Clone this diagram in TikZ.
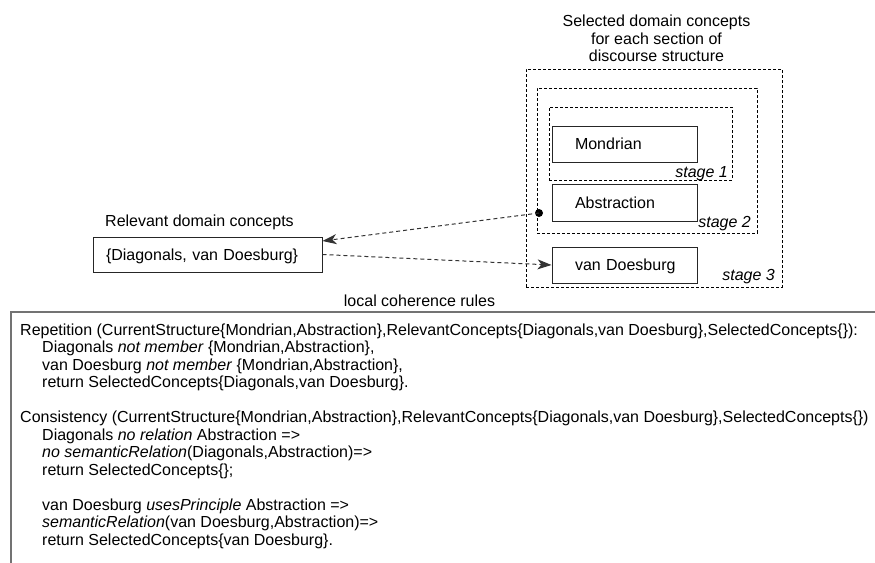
\documentclass[tikz,border=0pt]{standalone}
\usepackage{fontspec}
\setmainfont{Liberation Sans}
\usetikzlibrary{arrows.meta,calc}
\begin{document}
\begin{tikzpicture}[x=1pt,y=-1pt,
  every node/.style={font=\fontsize{16}{17.5}\selectfont},
  stagebox/.style={draw=black, line width=0.9pt, dash pattern=on 3pt off 2pt, inner sep=0pt},
  conceptbox/.style={draw=black!85, line width=1pt, inner xsep=23pt, inner ysep=0pt, minimum width=145pt, text width=99pt, align=left, text height=11.5pt, text depth=0pt},
  conn/.style={draw=black!80, line width=1pt, dash pattern=on 4pt off 3pt},
  tip/.style={-{Stealth[length=14pt,width=10pt,inset=4pt]}},
  stagelabel/.style={anchor=base east, inner sep=0pt, font=\fontsize{16}{17.5}\selectfont\itshape},
  plain/.style={inner sep=0pt}
]
\useasboundingbox (0,0) rectangle (875,562);

% title
\node[plain, anchor=north, align=center] (title) at (656.5,12.5)
  {\rule{0pt}{14pt}Selected domain concepts\\for each section of\\discourse structure};

% stage boxes
\node[stagebox, minimum width=256pt, minimum height=218pt] (st3) at (654,178) {};
\node[stagebox, minimum width=220pt, minimum height=145pt] (st2) at (647,160.5) {};
\node[stagebox, minimum width=183pt, minimum height=73pt] (st1) at (640.5,143.5) {};

% concept boxes
\node[conceptbox, minimum height=36pt] (mon) at (624.5,144) {\mbox{Mondrian}};
\node[conceptbox, minimum height=37pt] (abs) at (624.5,202.5) {\mbox{Abstraction}};
\node[conceptbox, minimum height=36pt] (vd) at (624.5,265) {\mbox{van Doesburg}};

% stage labels
\node[stagelabel] (l1) at (728,177) {stage 1};
\node[stagelabel] (l2) at (751,227.5) {stage 2};
\node[stagelabel] (l3) at (775,280) {stage 3};

% relevant concepts
\node[plain, anchor=base west] (reltitle) at (105,226.7) {Relevant domain concepts};
\node[draw=black!85, line width=1pt, minimum width=229pt, minimum height=35pt,
      inner xsep=13pt, inner ysep=0pt, text width=203pt, align=left,
      text height=11.5pt, text depth=0pt] (rel) at (207.5,254.5) {\{Diagonals, van Doesburg\}};

% connectors
\coordinate (dot) at (539,213);
\fill[black] (dot) circle (4pt);
\draw[conn, tip] (dot) -- ($(rel.east)+(0,-13.5)$);
\draw[conn, tip] (rel.east) -- (vd.west);

% local coherence rules
\node[plain, anchor=base] (lcr) at (419.5,306.5) {local coherence rules};
\coordinate (rb1) at (880,312);
\coordinate (rb2) at (11,312);
\coordinate (rb3) at (11,570);
\draw[draw=black!55, line width=1.5pt] (rb1) -- (rb2) -- (rb3);

\node[plain, anchor=north west, align=left] (rules) at (20,321) {%
\rule{0pt}{14pt}Repetition (CurrentStructure\{Mondrian,Abstraction\},RelevantConcepts\{Diagonals,van Doesburg\},SelectedConcepts\{\}):\\
\hspace*{22pt}Diagonals \textit{not member} \{Mondrian,Abstraction\},\\
\hspace*{22pt}van Doesburg \textit{not member} \{Mondrian,Abstraction\},\\
\hspace*{22pt}return SelectedConcepts\{Diagonals,van Doesburg\}.\\
\mbox{}\\
Consistency (CurrentStructure\{Mondrian,Abstraction\},RelevantConcepts\{Diagonals,van Doesburg\},SelectedConcepts\{\})\\
\hspace*{22pt}Diagonals \textit{no relation} Abstraction =>\\
\hspace*{22pt}\textit{no semanticRelation}(Diagonals,Abstraction)=>\\
\hspace*{22pt}return SelectedConcepts\{\};\\
\mbox{}\\
\hspace*{22pt}van Doesburg \textit{usesPrinciple} Abstraction =>\\
\hspace*{22pt}\textit{semanticRelation}(van Doesburg,Abstraction)=>\\
\hspace*{22pt}return SelectedConcepts\{van Doesburg\}.};
\end{tikzpicture}
\end{document}
